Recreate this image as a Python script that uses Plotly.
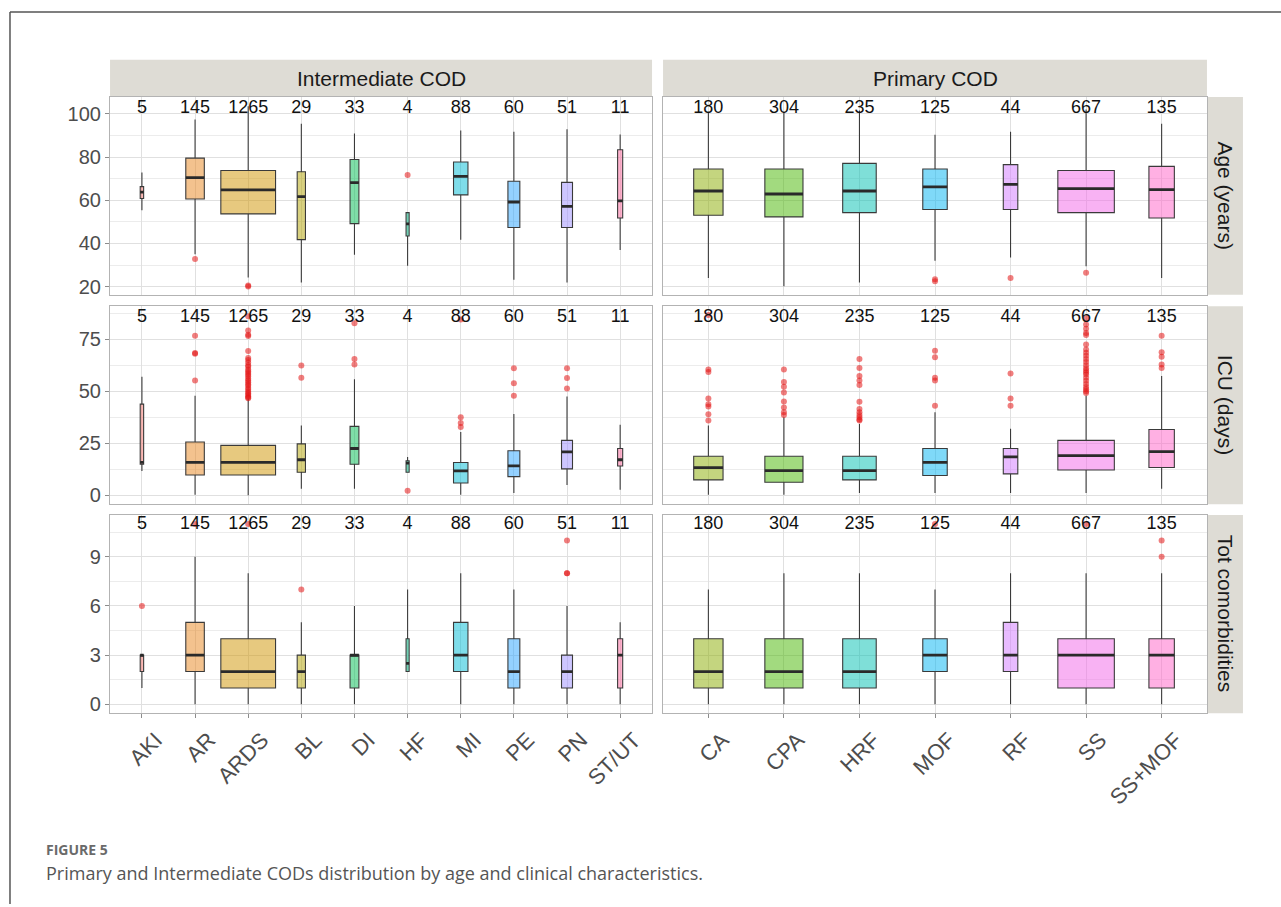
import math
import plotly.graph_objects as go

# ---------------- data ----------------
inter_cods = ["AKI", "AR", "ARDS", "BL", "DI", "HF", "MI", "PE", "PN", "ST/UT"]
inter_n = [5, 145, 1265, 29, 33, 4, 88, 60, 51, 11]
primary_cods = ["CA", "CPA", "HRF", "MOF", "RF", "SS", "SS+MOF"]
primary_n = [180, 304, 235, 125, 44, 667, 135]

variables = ["Age (years)", "ICU (days)", "Tot comorbidities"]

# box statistics: [lower whisker, Q1, median, Q3, upper whisker]
age_inter = [
    [55.4, 60.8, 63.8, 66.3, 72.8],
    [35.0, 60.6, 70.5, 79.5, 97.4],
    [24.3, 53.7, 64.8, 73.8, 103.5],
    [22.0, 41.8, 61.7, 73.2, 95.4],
    [34.8, 49.2, 68.2, 78.9, 90.9],
    [29.7, 43.5, 49.1, 54.3, 54.3],
    [41.7, 62.5, 71.1, 77.7, 92.3],
    [23.2, 47.4, 59.2, 68.8, 91.7],
    [22.0, 47.4, 57.2, 68.3, 92.9],
    [37.0, 51.8, 59.7, 83.4, 90.5],
]
age_primary = [
    [24.0, 53.1, 64.3, 74.5, 101.0],
    [20.2, 52.3, 62.9, 74.5, 101.0],
    [22.0, 54.3, 64.3, 77.1, 101.5],
    [32.0, 55.7, 66.2, 74.5, 90.3],
    [33.5, 55.7, 67.4, 76.5, 91.7],
    [29.5, 54.3, 65.4, 73.8, 102.0],
    [24.0, 51.8, 64.9, 75.7, 95.4],
]
icu_inter = [
    [11.7, 14.9, 15.8, 43.8, 57.0],
    [0.3, 9.8, 15.8, 25.6, 47.8],
    [0.0, 9.8, 15.8, 24.0, 46.5],
    [3.2, 11.1, 17.1, 24.7, 33.5],
    [3.2, 14.9, 22.5, 33.1, 55.7],
    [11.1, 11.1, 15.5, 16.6, 18.4],
    [0.3, 5.9, 11.7, 15.8, 30.4],
    [1.1, 9.0, 14.1, 21.4, 39.1],
    [5.0, 12.7, 20.9, 26.4, 47.5],
    [2.7, 14.1, 17.1, 22.5, 33.9],
]
icu_primary = [
    [0.3, 7.4, 13.3, 18.8, 33.5],
    [0.3, 6.3, 11.9, 18.8, 37.5],
    [1.1, 7.4, 11.9, 18.8, 34.3],
    [1.1, 9.5, 15.8, 22.5, 39.9],
    [1.1, 10.3, 18.5, 22.5, 32.0],
    [1.1, 12.2, 19.1, 26.4, 47.8],
    [3.2, 13.4, 21.0, 31.6, 57.3],
]
com_inter = [
    [1, 2, 3, 3, 3],
    [0, 2, 3, 5, 9],
    [0, 1, 2, 4, 8],
    [0, 1, 2, 3, 5],
    [0, 1, 3, 3, 6],
    [2, 2, 2.5, 4, 7],
    [0, 2, 3, 5, 8],
    [0, 1, 2, 4, 7],
    [0, 1, 2, 3, 6],
    [0, 1, 3, 4, 5],
]
com_primary = [
    [0, 1, 2, 4, 7],
    [0, 1, 2, 4, 8],
    [0, 1, 2, 4, 8],
    [0, 2, 3, 4, 7],
    [0, 2, 3, 5, 8],
    [0, 1, 3, 4, 8],
    [0, 1, 3, 4, 8],
]

# outlying observations
age_inter_out = [[], [32.8], [20.6, 20.1], [], [], [71.7], [], [], [], []]
age_primary_out = [[], [], [], [23.5, 22.5], [24.0], [26.5], []]
icu_inter_out = [
    [],
    [76.6, 68.4, 68.0, 55.2],
    [86.0, 79.2, 77.1, 76.5, 69.3, 66.0, 65.0, 63.8, 62.5, 61.7, 60.4, 59.6,
     58.8, 57.9, 57.1, 56.0, 55.2, 54.3, 53.4, 52.6, 51.5, 50.7, 49.8, 49.0,
     48.3, 47.6, 47.0, 46.6],
    [62.3, 56.5],
    [82.6, 65.5, 62.8],
    [2.2],
    [84.5, 37.5, 34.7, 32.8],
    [61.0, 53.8, 47.8],
    [61.0, 56.3, 51.3],
    [],
]
icu_primary_out = [
    [86.6, 60.4, 59.2, 46.5, 43.7, 42.7, 39.0, 35.9],
    [60.4, 54.4, 52.2, 49.4, 45.1, 42.2, 39.9, 38.6],
    [65.5, 61.2, 57.3, 55.2, 53.0, 44.9, 41.5, 39.9, 38.6, 37.5, 36.4, 35.9],
    [69.5, 66.3, 56.5, 55.2, 43.0],
    [58.5, 46.5, 43.0],
    [85.0, 82.0, 80.0, 78.0, 77.0, 72.5, 70.0, 68.5, 67.0, 65.5, 64.0, 62.5,
     61.0, 60.0, 59.0, 58.0, 56.5, 55.0, 53.5, 52.0, 51.0, 50.0, 49.2],
    [76.6, 68.7, 66.5, 62.8, 61.2],
]
com_inter_out = [[6], [11], [11], [7], [], [], [], [], [10, 8, 8], []]
com_primary_out = [[], [], [], [11], [], [11], [10, 9]]

# y position of the group-size labels in each row
count_label_y = [102.5, 85.5, 11.0]

# ---------------- styling helpers ----------------
def hcl_hex(h, c=100.0, l=65.0):
    hr = math.radians(h)
    u, v = c * math.cos(hr), c * math.sin(hr)
    Y = ((l + 16.0) / 116.0) ** 3
    un, vn = 0.1978398, 0.4683363
    up = u / (13.0 * l) + un
    vp = v / (13.0 * l) + vn
    X = 9.0 * Y * up / (4.0 * vp)
    Z = -X / 3.0 - 5.0 * Y + 3.0 * Y / vp
    rgb = [3.240479 * X - 1.537150 * Y - 0.498535 * Z,
           -0.969256 * X + 1.875992 * Y + 0.041556 * Z,
           0.055648 * X - 0.204043 * Y + 1.057311 * Z]
    out = []
    for ch in rgb:
        ch = 12.92 * ch if ch <= 0.0031308 else 1.055 * ch ** (1 / 2.4) - 0.055
        out.append(int(round(min(max(ch, 0.0), 1.0) * 255)))
    return out


all_levels = sorted(inter_cods + primary_cods)
n_lev = len(all_levels)
hue_of = {lev: 15 + i * 360.0 / n_lev for i, lev in enumerate(all_levels)}


def fill_rgba(level, alpha=0.5):
    r, g, b = hcl_hex(hue_of[level])
    return f"rgba({r},{g},{b},{alpha})"


max_n = max(inter_n + primary_n)
BOX_W = 1.03
FONT = "Liberation Sans, Arial, sans-serif"

# panel geometry (paper fractions)
col_dom = [[0.0859, 0.5090], [0.5176, 0.9422]]
row_dom = [[0.6740, 0.8927], [0.4421, 0.6612], [0.2109, 0.4303]]
row_range = [[16.3, 107.8], [-4.33, 90.8], [-0.55, 11.55]]
row_ticks = [[20, 40, 60, 80, 100], [0, 25, 50, 75], [0, 3, 6, 9]]
row_minor = [[30, 50, 70, 90], [12.5, 37.5, 62.5, 87.5], [1.5, 4.5, 7.5, 10.5]]

columns = [
    (inter_cods, inter_n, [age_inter, icu_inter, com_inter],
     [age_inter_out, icu_inter_out, com_inter_out]),
    (primary_cods, primary_n, [age_primary, icu_primary, com_primary],
     [age_primary_out, icu_primary_out, com_primary_out]),
]

fig = go.Figure()
layout = {}

for r in range(3):
    for c in range(2):
        idx = r * 2 + c + 1
        xa = "x" if idx == 1 else f"x{idx}"
        ya = "y" if idx == 1 else f"y{idx}"
        cats, ns, stats_rows, out_rows = columns[c]
        stats = stats_rows[r]
        outs = out_rows[r]
        pos = list(range(len(cats)))

        for i, cat in enumerate(cats):
            lo, q1, med, q3, hi = stats[i]
            w = BOX_W * math.sqrt(ns[i] / max_n)
            fig.add_trace(go.Box(
                x=[pos[i]], q1=[q1], median=[med], q3=[q3],
                lowerfence=[lo], upperfence=[hi],
                width=w, whiskerwidth=0, boxpoints=False,
                fillcolor=fill_rgba(cat),
                line=dict(color="#3a3a3a", width=1.1),
                xaxis=xa, yaxis=ya, showlegend=False, hoverinfo="skip",
            ))
            # thicker median bar
            fig.add_trace(go.Scatter(
                x=[pos[i] - w / 2, pos[i] + w / 2], y=[med, med],
                mode="lines", line=dict(color="#2a2a2a", width=2.8),
                xaxis=xa, yaxis=ya, showlegend=False, hoverinfo="skip",
            ))

        ox, oy = [], []
        for i, vals in enumerate(outs):
            for v in vals:
                ox.append(pos[i])
                oy.append(v)
        if ox:
            fig.add_trace(go.Scatter(
                x=ox, y=oy, mode="markers",
                marker=dict(color="rgba(228,20,20,0.55)", size=6, line=dict(width=0)),
                xaxis=xa, yaxis=ya, showlegend=False, hoverinfo="skip",
            ))

        fig.add_trace(go.Scatter(
            x=pos, y=[count_label_y[r]] * len(pos), text=[str(n) for n in ns],
            mode="text", textposition="middle center",
            textfont=dict(family=FONT, size=18, color="#111111"),
            xaxis=xa, yaxis=ya, showlegend=False, hoverinfo="skip",
        ))

        bottom = r == 2
        left = c == 0
        layout["xaxis" if idx == 1 else f"xaxis{idx}"] = dict(
            domain=col_dom[c], anchor=ya, range=[-0.6, len(cats) - 0.4],
            tickvals=pos, ticktext=cats, showticklabels=bottom,
            ticks="outside" if bottom else "", ticklen=4, tickcolor="#8c8c8c",
            tickangle=-45, ticklabelshift=14,
            tickfont=dict(family=FONT, size=22, color="#4d4d4d"),
            showgrid=True, gridcolor="#e0e0e0", gridwidth=1, zeroline=False,
            showline=True, mirror=True, linecolor="#b3b3b3", linewidth=1.2,
            fixedrange=True,
        )
        layout["yaxis" if idx == 1 else f"yaxis{idx}"] = dict(
            domain=row_dom[r], anchor=xa, range=row_range[r],
            tickvals=row_ticks[r], showticklabels=left,
            ticks="outside" if left else "", ticklen=4, tickcolor="#8c8c8c",
            tickfont=dict(family=FONT, size=20, color="#4d4d4d"),
            showgrid=True, gridcolor="#e0e0e0", gridwidth=1, zeroline=False,
            minor=dict(tickvals=row_minor[r], showgrid=True, gridcolor="#ececec",
                       gridwidth=1, ticks=""),
            showline=True, mirror=True, linecolor="#b3b3b3", linewidth=1.2,
            fixedrange=True,
        )

STRIP = "#dedcd5"
shapes = []
annotations = []
strip_top = 0.9338
for c, label in enumerate(["Intermediate COD", "Primary COD"]):
    shapes.append(dict(type="rect", xref="paper", yref="paper",
                       x0=col_dom[c][0], x1=col_dom[c][1],
                       y0=row_dom[0][1], y1=strip_top,
                       fillcolor=STRIP, line=dict(width=0), layer="below"))
    annotations.append(dict(xref="paper", yref="paper",
                            x=sum(col_dom[c]) / 2, y=(row_dom[0][1] + strip_top) / 2,
                            xanchor="center", yanchor="middle",
                            text=label, showarrow=False,
                            font=dict(family=FONT, size=21, color="#1a1a1a")))
strip_x = [0.9430, 0.9703]
for r, label in enumerate(variables):
    shapes.append(dict(type="rect", xref="paper", yref="paper",
                       x0=strip_x[0], x1=strip_x[1],
                       y0=row_dom[r][0], y1=row_dom[r][1],
                       fillcolor=STRIP, line=dict(width=0), layer="below"))
    annotations.append(dict(xref="paper", yref="paper",
                            x=sum(strip_x) / 2, y=sum(row_dom[r]) / 2,
                            xanchor="center", yanchor="middle",
                            text=label, showarrow=False, textangle=90,
                            font=dict(family=FONT, size=21, color="#1a1a1a")))

# outer frame (top and left rules)
shapes.append(dict(type="line", xref="paper", yref="paper",
                   x0=0.0078, x1=1.0, y0=0.9868, y1=0.9868,
                   line=dict(color="#555555", width=1.5)))
shapes.append(dict(type="line", xref="paper", yref="paper",
                   x0=0.0078, x1=0.0078, y0=0.0, y1=0.9868,
                   line=dict(color="#555555", width=1.5)))

# caption
annotations.append(dict(xref="paper", yref="paper", x=44 / 1281, y=1 - 852 / 907,
                        xanchor="left", yanchor="middle", showarrow=False,
                        text="<b>FIGURE 5</b>",
                        font=dict(family="Open Sans, sans-serif", size=14, color="#6a6a6a")))
annotations.append(dict(xref="paper", yref="paper", x=44 / 1281, y=1 - 876 / 907,
                        xanchor="left", yanchor="middle", showarrow=False,
                        text="Primary and Intermediate CODs distribution by age and clinical characteristics.",
                        font=dict(family="Open Sans, sans-serif", size=18, color="#555555")))

fig.update_layout(
    width=1281, height=907,
    margin=dict(l=0, r=0, t=0, b=0),
    paper_bgcolor="white", plot_bgcolor="white",
    shapes=shapes, annotations=annotations,
    showlegend=False, boxmode="overlay",
    **layout,
)

fig.write_html("out.html", config={"displayModeBar": False})
